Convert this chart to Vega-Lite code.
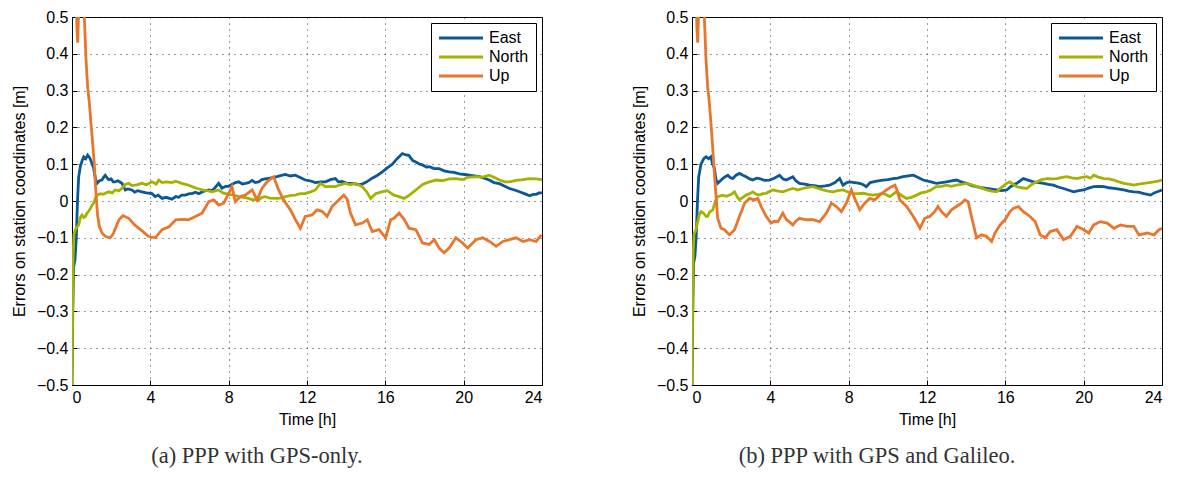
{
"$schema": "https://vega.github.io/schema/vega-lite/v6.json",
"background": "white",
"padding": {"left": 10, "top": 8, "right": 5, "bottom": 5},
"config": {
  "font": "Liberation Sans",
  "view": {"stroke": "black", "strokeWidth": 1},
  "axis": {"domainColor": "black", "domainWidth": 1, "ticks": true, "tickSize": -5, "tickColor": "black", "labelFontSize": 16, "labelColor": "black", "labelPadding": 9, "titleFontSize": 16, "titleFontWeight": "normal", "titleColor": "black", "grid": true, "gridColor": "#222", "gridDash": [1, 5], "gridWidth": 1, "gridOpacity": 0.9},
  "legend": {"title": null, "orient": "top-right", "offset": 6, "fillColor": "white", "strokeColor": "black", "padding": 7, "symbolType": "M-1.27,0H6.73", "symbolSize": 121, "symbolStrokeWidth": 3, "labelFontSize": 16, "labelColor": "black", "rowPadding": 3, "labelOffset": 35},
  "title": {"orient": "bottom", "font": "Liberation Serif", "fontSize": 22.5, "fontWeight": "normal", "color": "#333", "offset": 18, "dx": -50}
},
"spacing": 87,
"data": {"values": [
{"p":"a","s":"East","t":0,"v":-0.5},{"p":"a","s":"East","t":0.04,"v":-0.3},{"p":"a","s":"East","t":0.08,"v":-0.18},{"p":"a","s":"East","t":0.15,"v":-0.16},{"p":"a","s":"East","t":0.22,"v":-0.1},{"p":"a","s":"East","t":0.28,"v":0.0},{"p":"a","s":"East","t":0.34,"v":0.065},{"p":"a","s":"East","t":0.43,"v":0.095},{"p":"a","s":"East","t":0.52,"v":0.11},{"p":"a","s":"East","t":0.6,"v":0.12},{"p":"a","s":"East","t":0.7,"v":0.115},{"p":"a","s":"East","t":0.8,"v":0.125},{"p":"a","s":"East","t":0.9,"v":0.118},{"p":"a","s":"East","t":1.0,"v":0.105},{"p":"a","s":"East","t":1.1,"v":0.09},{"p":"a","s":"East","t":1.2,"v":0.06},{"p":"a","s":"East","t":1.28,"v":0.048},{"p":"a","s":"East","t":1.4,"v":0.055},{"p":"a","s":"East","t":1.53,"v":0.057},{"p":"a","s":"East","t":1.62,"v":0.065},{"p":"a","s":"East","t":1.7,"v":0.07},{"p":"a","s":"East","t":1.8,"v":0.062},{"p":"a","s":"East","t":1.87,"v":0.058},{"p":"a","s":"East","t":2.0,"v":0.06},{"p":"a","s":"East","t":2.1,"v":0.052},{"p":"a","s":"East","t":2.2,"v":0.052},{"p":"a","s":"East","t":2.35,"v":0.055},{"p":"a","s":"East","t":2.55,"v":0.048},{"p":"a","s":"East","t":2.65,"v":0.038},{"p":"a","s":"East","t":2.72,"v":0.03},{"p":"a","s":"East","t":2.85,"v":0.033},{"p":"a","s":"East","t":3.06,"v":0.03},{"p":"a","s":"East","t":3.2,"v":0.024},{"p":"a","s":"East","t":3.35,"v":0.028},{"p":"a","s":"East","t":3.57,"v":0.025},{"p":"a","s":"East","t":3.8,"v":0.022},{"p":"a","s":"East","t":4.08,"v":0.02},{"p":"a","s":"East","t":4.25,"v":0.012},{"p":"a","s":"East","t":4.4,"v":0.016},{"p":"a","s":"East","t":4.6,"v":0.007},{"p":"a","s":"East","t":4.8,"v":0.01},{"p":"a","s":"East","t":5.1,"v":0.005},{"p":"a","s":"East","t":5.3,"v":0.012},{"p":"a","s":"East","t":5.45,"v":0.01},{"p":"a","s":"East","t":5.6,"v":0.016},{"p":"a","s":"East","t":5.79,"v":0.016},{"p":"a","s":"East","t":6.0,"v":0.02},{"p":"a","s":"East","t":6.13,"v":0.02},{"p":"a","s":"East","t":6.3,"v":0.024},{"p":"a","s":"East","t":6.47,"v":0.02},{"p":"a","s":"East","t":6.7,"v":0.026},{"p":"a","s":"East","t":6.98,"v":0.03},{"p":"a","s":"East","t":7.15,"v":0.028},{"p":"a","s":"East","t":7.3,"v":0.036},{"p":"a","s":"East","t":7.49,"v":0.048},{"p":"a","s":"East","t":7.66,"v":0.035},{"p":"a","s":"East","t":7.85,"v":0.04},{"p":"a","s":"East","t":8.0,"v":0.04},{"p":"a","s":"East","t":8.2,"v":0.046},{"p":"a","s":"East","t":8.35,"v":0.05},{"p":"a","s":"East","t":8.51,"v":0.052},{"p":"a","s":"East","t":8.7,"v":0.046},{"p":"a","s":"East","t":9.02,"v":0.05},{"p":"a","s":"East","t":9.2,"v":0.056},{"p":"a","s":"East","t":9.35,"v":0.05},{"p":"a","s":"East","t":9.53,"v":0.052},{"p":"a","s":"East","t":9.7,"v":0.058},{"p":"a","s":"East","t":9.87,"v":0.06},{"p":"a","s":"East","t":10.1,"v":0.062},{"p":"a","s":"East","t":10.38,"v":0.065},{"p":"a","s":"East","t":10.6,"v":0.068},{"p":"a","s":"East","t":10.9,"v":0.072},{"p":"a","s":"East","t":11.15,"v":0.068},{"p":"a","s":"East","t":11.4,"v":0.07},{"p":"a","s":"East","t":11.65,"v":0.064},{"p":"a","s":"East","t":11.91,"v":0.057},{"p":"a","s":"East","t":12.15,"v":0.055},{"p":"a","s":"East","t":12.43,"v":0.05},{"p":"a","s":"East","t":12.7,"v":0.052},{"p":"a","s":"East","t":12.94,"v":0.052},{"p":"a","s":"East","t":13.2,"v":0.058},{"p":"a","s":"East","t":13.45,"v":0.061},{"p":"a","s":"East","t":13.6,"v":0.052},{"p":"a","s":"East","t":13.8,"v":0.053},{"p":"a","s":"East","t":14.05,"v":0.048},{"p":"a","s":"East","t":14.3,"v":0.048},{"p":"a","s":"East","t":14.55,"v":0.045},{"p":"a","s":"East","t":14.82,"v":0.046},{"p":"a","s":"East","t":15.05,"v":0.052},{"p":"a","s":"East","t":15.33,"v":0.062},{"p":"a","s":"East","t":15.6,"v":0.07},{"p":"a","s":"East","t":15.85,"v":0.079},{"p":"a","s":"East","t":16.1,"v":0.09},{"p":"a","s":"East","t":16.36,"v":0.1},{"p":"a","s":"East","t":16.6,"v":0.115},{"p":"a","s":"East","t":16.87,"v":0.129},{"p":"a","s":"East","t":17.05,"v":0.125},{"p":"a","s":"East","t":17.2,"v":0.124},{"p":"a","s":"East","t":17.4,"v":0.11},{"p":"a","s":"East","t":17.56,"v":0.106},{"p":"a","s":"East","t":17.75,"v":0.1},{"p":"a","s":"East","t":17.9,"v":0.098},{"p":"a","s":"East","t":18.1,"v":0.092},{"p":"a","s":"East","t":18.24,"v":0.093},{"p":"a","s":"East","t":18.5,"v":0.088},{"p":"a","s":"East","t":18.75,"v":0.088},{"p":"a","s":"East","t":19.0,"v":0.082},{"p":"a","s":"East","t":19.26,"v":0.079},{"p":"a","s":"East","t":19.5,"v":0.078},{"p":"a","s":"East","t":19.78,"v":0.074},{"p":"a","s":"East","t":20.05,"v":0.072},{"p":"a","s":"East","t":20.29,"v":0.07},{"p":"a","s":"East","t":20.55,"v":0.068},{"p":"a","s":"East","t":20.8,"v":0.066},{"p":"a","s":"East","t":21.05,"v":0.062},{"p":"a","s":"East","t":21.3,"v":0.057},{"p":"a","s":"East","t":21.55,"v":0.05},{"p":"a","s":"East","t":21.83,"v":0.047},{"p":"a","s":"East","t":22.1,"v":0.04},{"p":"a","s":"East","t":22.34,"v":0.034},{"p":"a","s":"East","t":22.6,"v":0.03},{"p":"a","s":"East","t":22.85,"v":0.025},{"p":"a","s":"East","t":23.1,"v":0.02},{"p":"a","s":"East","t":23.37,"v":0.014},{"p":"a","s":"East","t":23.55,"v":0.018},{"p":"a","s":"East","t":23.7,"v":0.018},{"p":"a","s":"East","t":23.85,"v":0.022},{"p":"a","s":"East","t":24.0,"v":0.022},
{"p":"a","s":"North","t":0,"v":-0.5},{"p":"a","s":"North","t":0.03,"v":-0.3},{"p":"a","s":"North","t":0.06,"v":-0.14},{"p":"a","s":"North","t":0.1,"v":-0.09},{"p":"a","s":"North","t":0.17,"v":-0.078},{"p":"a","s":"North","t":0.26,"v":-0.07},{"p":"a","s":"North","t":0.34,"v":-0.065},{"p":"a","s":"North","t":0.43,"v":-0.045},{"p":"a","s":"North","t":0.51,"v":-0.038},{"p":"a","s":"North","t":0.6,"v":-0.045},{"p":"a","s":"North","t":0.68,"v":-0.042},{"p":"a","s":"North","t":0.77,"v":-0.033},{"p":"a","s":"North","t":0.85,"v":-0.028},{"p":"a","s":"North","t":0.94,"v":-0.02},{"p":"a","s":"North","t":1.02,"v":-0.012},{"p":"a","s":"North","t":1.1,"v":-0.006},{"p":"a","s":"North","t":1.2,"v":0.008},{"p":"a","s":"North","t":1.28,"v":0.016},{"p":"a","s":"North","t":1.45,"v":0.02},{"p":"a","s":"North","t":1.6,"v":0.018},{"p":"a","s":"North","t":1.87,"v":0.025},{"p":"a","s":"North","t":2.05,"v":0.022},{"p":"a","s":"North","t":2.2,"v":0.03},{"p":"a","s":"North","t":2.4,"v":0.028},{"p":"a","s":"North","t":2.55,"v":0.034},{"p":"a","s":"North","t":2.72,"v":0.045},{"p":"a","s":"North","t":2.9,"v":0.048},{"p":"a","s":"North","t":3.06,"v":0.042},{"p":"a","s":"North","t":3.3,"v":0.044},{"p":"a","s":"North","t":3.57,"v":0.048},{"p":"a","s":"North","t":3.8,"v":0.044},{"p":"a","s":"North","t":4.08,"v":0.052},{"p":"a","s":"North","t":4.3,"v":0.046},{"p":"a","s":"North","t":4.43,"v":0.057},{"p":"a","s":"North","t":4.6,"v":0.05},{"p":"a","s":"North","t":4.8,"v":0.052},{"p":"a","s":"North","t":5.1,"v":0.05},{"p":"a","s":"North","t":5.3,"v":0.054},{"p":"a","s":"North","t":5.6,"v":0.048},{"p":"a","s":"North","t":5.9,"v":0.044},{"p":"a","s":"North","t":6.13,"v":0.039},{"p":"a","s":"North","t":6.4,"v":0.034},{"p":"a","s":"North","t":6.64,"v":0.03},{"p":"a","s":"North","t":6.9,"v":0.028},{"p":"a","s":"North","t":7.15,"v":0.025},{"p":"a","s":"North","t":7.49,"v":0.03},{"p":"a","s":"North","t":7.7,"v":0.022},{"p":"a","s":"North","t":8.0,"v":0.018},{"p":"a","s":"North","t":8.25,"v":0.016},{"p":"a","s":"North","t":8.51,"v":0.012},{"p":"a","s":"North","t":8.75,"v":0.01},{"p":"a","s":"North","t":9.02,"v":0.007},{"p":"a","s":"North","t":9.2,"v":0.004},{"p":"a","s":"North","t":9.53,"v":0.003},{"p":"a","s":"North","t":9.7,"v":0.01},{"p":"a","s":"North","t":9.87,"v":0.012},{"p":"a","s":"North","t":10.1,"v":0.008},{"p":"a","s":"North","t":10.38,"v":0.007},{"p":"a","s":"North","t":10.65,"v":0.008},{"p":"a","s":"North","t":10.9,"v":0.012},{"p":"a","s":"North","t":11.2,"v":0.015},{"p":"a","s":"North","t":11.4,"v":0.016},{"p":"a","s":"North","t":11.65,"v":0.02},{"p":"a","s":"North","t":11.91,"v":0.02},{"p":"a","s":"North","t":12.15,"v":0.024},{"p":"a","s":"North","t":12.43,"v":0.03},{"p":"a","s":"North","t":12.68,"v":0.048},{"p":"a","s":"North","t":12.94,"v":0.039},{"p":"a","s":"North","t":13.2,"v":0.04},{"p":"a","s":"North","t":13.45,"v":0.039},{"p":"a","s":"North","t":13.7,"v":0.044},{"p":"a","s":"North","t":13.96,"v":0.048},{"p":"a","s":"North","t":14.2,"v":0.044},{"p":"a","s":"North","t":14.48,"v":0.048},{"p":"a","s":"North","t":14.82,"v":0.039},{"p":"a","s":"North","t":15.05,"v":0.025},{"p":"a","s":"North","t":15.25,"v":0.007},{"p":"a","s":"North","t":15.5,"v":0.02},{"p":"a","s":"North","t":15.8,"v":0.025},{"p":"a","s":"North","t":16.1,"v":0.028},{"p":"a","s":"North","t":16.44,"v":0.016},{"p":"a","s":"North","t":16.7,"v":0.012},{"p":"a","s":"North","t":16.96,"v":0.007},{"p":"a","s":"North","t":17.2,"v":0.015},{"p":"a","s":"North","t":17.56,"v":0.03},{"p":"a","s":"North","t":17.9,"v":0.045},{"p":"a","s":"North","t":18.24,"v":0.052},{"p":"a","s":"North","t":18.6,"v":0.057},{"p":"a","s":"North","t":18.9,"v":0.055},{"p":"a","s":"North","t":19.26,"v":0.06},{"p":"a","s":"North","t":19.6,"v":0.061},{"p":"a","s":"North","t":19.95,"v":0.058},{"p":"a","s":"North","t":20.2,"v":0.064},{"p":"a","s":"North","t":20.63,"v":0.066},{"p":"a","s":"North","t":20.97,"v":0.065},{"p":"a","s":"North","t":21.3,"v":0.07},{"p":"a","s":"North","t":21.66,"v":0.062},{"p":"a","s":"North","t":21.83,"v":0.057},{"p":"a","s":"North","t":22.1,"v":0.052},{"p":"a","s":"North","t":22.34,"v":0.052},{"p":"a","s":"North","t":22.68,"v":0.056},{"p":"a","s":"North","t":23.03,"v":0.058},{"p":"a","s":"North","t":23.37,"v":0.061},{"p":"a","s":"North","t":23.7,"v":0.06},{"p":"a","s":"North","t":24.0,"v":0.058},
{"p":"a","s":"Up","t":0.05,"v":0.7},{"p":"a","s":"Up","t":0.2,"v":0.6},{"p":"a","s":"Up","t":0.25,"v":0.47},{"p":"a","s":"Up","t":0.29,"v":0.43},{"p":"a","s":"Up","t":0.33,"v":0.5},{"p":"a","s":"Up","t":0.38,"v":0.7},{"p":"a","s":"Up","t":0.55,"v":0.8},{"p":"a","s":"Up","t":0.63,"v":0.5},{"p":"a","s":"Up","t":0.72,"v":0.38},{"p":"a","s":"Up","t":0.8,"v":0.31},{"p":"a","s":"Up","t":0.88,"v":0.27},{"p":"a","s":"Up","t":0.97,"v":0.21},{"p":"a","s":"Up","t":1.05,"v":0.16},{"p":"a","s":"Up","t":1.14,"v":0.1},{"p":"a","s":"Up","t":1.2,"v":0.04},{"p":"a","s":"Up","t":1.25,"v":0.0},{"p":"a","s":"Up","t":1.31,"v":-0.04},{"p":"a","s":"Up","t":1.4,"v":-0.07},{"p":"a","s":"Up","t":1.53,"v":-0.087},{"p":"a","s":"Up","t":1.7,"v":-0.096},{"p":"a","s":"Up","t":1.95,"v":-0.1},{"p":"a","s":"Up","t":2.1,"v":-0.09},{"p":"a","s":"Up","t":2.25,"v":-0.07},{"p":"a","s":"Up","t":2.4,"v":-0.051},{"p":"a","s":"Up","t":2.6,"v":-0.04},{"p":"a","s":"Up","t":2.9,"v":-0.047},{"p":"a","s":"Up","t":3.2,"v":-0.065},{"p":"a","s":"Up","t":3.5,"v":-0.078},{"p":"a","s":"Up","t":3.9,"v":-0.096},{"p":"a","s":"Up","t":4.25,"v":-0.1},{"p":"a","s":"Up","t":4.6,"v":-0.078},{"p":"a","s":"Up","t":4.95,"v":-0.07},{"p":"a","s":"Up","t":5.3,"v":-0.051},{"p":"a","s":"Up","t":5.6,"v":-0.05},{"p":"a","s":"Up","t":5.95,"v":-0.051},{"p":"a","s":"Up","t":6.3,"v":-0.042},{"p":"a","s":"Up","t":6.64,"v":-0.033},{"p":"a","s":"Up","t":6.98,"v":-0.002},{"p":"a","s":"Up","t":7.24,"v":0.003},{"p":"a","s":"Up","t":7.49,"v":-0.011},{"p":"a","s":"Up","t":7.75,"v":-0.006},{"p":"a","s":"Up","t":8.0,"v":0.021},{"p":"a","s":"Up","t":8.17,"v":0.039},{"p":"a","s":"Up","t":8.34,"v":-0.002},{"p":"a","s":"Up","t":8.6,"v":0.012},{"p":"a","s":"Up","t":8.85,"v":0.016},{"p":"a","s":"Up","t":9.2,"v":0.03},{"p":"a","s":"Up","t":9.45,"v":0.003},{"p":"a","s":"Up","t":9.7,"v":0.034},{"p":"a","s":"Up","t":9.96,"v":0.052},{"p":"a","s":"Up","t":10.3,"v":0.066},{"p":"a","s":"Up","t":10.55,"v":0.03},{"p":"a","s":"Up","t":10.8,"v":0.003},{"p":"a","s":"Up","t":11.15,"v":-0.024},{"p":"a","s":"Up","t":11.4,"v":-0.05},{"p":"a","s":"Up","t":11.66,"v":-0.074},{"p":"a","s":"Up","t":11.91,"v":-0.042},{"p":"a","s":"Up","t":12.26,"v":-0.038},{"p":"a","s":"Up","t":12.51,"v":-0.024},{"p":"a","s":"Up","t":12.77,"v":-0.028},{"p":"a","s":"Up","t":13.03,"v":-0.042},{"p":"a","s":"Up","t":13.28,"v":-0.015},{"p":"a","s":"Up","t":13.62,"v":0.003},{"p":"a","s":"Up","t":13.88,"v":0.016},{"p":"a","s":"Up","t":14.05,"v":0.005},{"p":"a","s":"Up","t":14.22,"v":-0.033},{"p":"a","s":"Up","t":14.48,"v":-0.065},{"p":"a","s":"Up","t":14.82,"v":-0.06},{"p":"a","s":"Up","t":15.08,"v":-0.051},{"p":"a","s":"Up","t":15.33,"v":-0.083},{"p":"a","s":"Up","t":15.68,"v":-0.078},{"p":"a","s":"Up","t":16.02,"v":-0.1},{"p":"a","s":"Up","t":16.27,"v":-0.051},{"p":"a","s":"Up","t":16.44,"v":-0.047},{"p":"a","s":"Up","t":16.7,"v":-0.033},{"p":"a","s":"Up","t":16.96,"v":-0.05},{"p":"a","s":"Up","t":17.21,"v":-0.074},{"p":"a","s":"Up","t":17.56,"v":-0.078},{"p":"a","s":"Up","t":17.9,"v":-0.114},{"p":"a","s":"Up","t":18.24,"v":-0.118},{"p":"a","s":"Up","t":18.5,"v":-0.105},{"p":"a","s":"Up","t":18.75,"v":-0.128},{"p":"a","s":"Up","t":19.0,"v":-0.141},{"p":"a","s":"Up","t":19.26,"v":-0.128},{"p":"a","s":"Up","t":19.6,"v":-0.1},{"p":"a","s":"Up","t":19.95,"v":-0.114},{"p":"a","s":"Up","t":20.2,"v":-0.128},{"p":"a","s":"Up","t":20.63,"v":-0.105},{"p":"a","s":"Up","t":20.97,"v":-0.1},{"p":"a","s":"Up","t":21.32,"v":-0.11},{"p":"a","s":"Up","t":21.66,"v":-0.123},{"p":"a","s":"Up","t":22.0,"v":-0.11},{"p":"a","s":"Up","t":22.34,"v":-0.105},{"p":"a","s":"Up","t":22.68,"v":-0.1},{"p":"a","s":"Up","t":23.03,"v":-0.11},{"p":"a","s":"Up","t":23.37,"v":-0.105},{"p":"a","s":"Up","t":23.7,"v":-0.11},{"p":"a","s":"Up","t":23.97,"v":-0.092},
{"p":"b","s":"East","t":0,"v":-0.5},{"p":"b","s":"East","t":0.04,"v":-0.3},{"p":"b","s":"East","t":0.08,"v":-0.17},{"p":"b","s":"East","t":0.15,"v":-0.15},{"p":"b","s":"East","t":0.22,"v":-0.09},{"p":"b","s":"East","t":0.28,"v":0.0},{"p":"b","s":"East","t":0.34,"v":0.065},{"p":"b","s":"East","t":0.46,"v":0.1},{"p":"b","s":"East","t":0.6,"v":0.115},{"p":"b","s":"East","t":0.72,"v":0.12},{"p":"b","s":"East","t":0.85,"v":0.115},{"p":"b","s":"East","t":0.97,"v":0.12},{"p":"b","s":"East","t":1.05,"v":0.1},{"p":"b","s":"East","t":1.14,"v":0.09},{"p":"b","s":"East","t":1.22,"v":0.06},{"p":"b","s":"East","t":1.31,"v":0.048},{"p":"b","s":"East","t":1.45,"v":0.055},{"p":"b","s":"East","t":1.57,"v":0.061},{"p":"b","s":"East","t":1.7,"v":0.066},{"p":"b","s":"East","t":1.83,"v":0.07},{"p":"b","s":"East","t":1.95,"v":0.064},{"p":"b","s":"East","t":2.08,"v":0.061},{"p":"b","s":"East","t":2.25,"v":0.07},{"p":"b","s":"East","t":2.42,"v":0.075},{"p":"b","s":"East","t":2.6,"v":0.07},{"p":"b","s":"East","t":2.76,"v":0.066},{"p":"b","s":"East","t":2.95,"v":0.06},{"p":"b","s":"East","t":3.1,"v":0.057},{"p":"b","s":"East","t":3.3,"v":0.062},{"p":"b","s":"East","t":3.45,"v":0.061},{"p":"b","s":"East","t":3.7,"v":0.056},{"p":"b","s":"East","t":3.96,"v":0.057},{"p":"b","s":"East","t":4.2,"v":0.062},{"p":"b","s":"East","t":4.47,"v":0.07},{"p":"b","s":"East","t":4.65,"v":0.06},{"p":"b","s":"East","t":4.81,"v":0.057},{"p":"b","s":"East","t":5.0,"v":0.062},{"p":"b","s":"East","t":5.15,"v":0.066},{"p":"b","s":"East","t":5.3,"v":0.055},{"p":"b","s":"East","t":5.49,"v":0.048},{"p":"b","s":"East","t":5.75,"v":0.046},{"p":"b","s":"East","t":6.0,"v":0.043},{"p":"b","s":"East","t":6.25,"v":0.042},{"p":"b","s":"East","t":6.52,"v":0.039},{"p":"b","s":"East","t":6.8,"v":0.041},{"p":"b","s":"East","t":7.03,"v":0.043},{"p":"b","s":"East","t":7.3,"v":0.05},{"p":"b","s":"East","t":7.54,"v":0.061},{"p":"b","s":"East","t":7.71,"v":0.043},{"p":"b","s":"East","t":7.9,"v":0.05},{"p":"b","s":"East","t":8.05,"v":0.052},{"p":"b","s":"East","t":8.3,"v":0.05},{"p":"b","s":"East","t":8.57,"v":0.048},{"p":"b","s":"East","t":8.75,"v":0.044},{"p":"b","s":"East","t":8.9,"v":0.039},{"p":"b","s":"East","t":9.1,"v":0.05},{"p":"b","s":"East","t":9.25,"v":0.052},{"p":"b","s":"East","t":9.5,"v":0.055},{"p":"b","s":"East","t":9.76,"v":0.057},{"p":"b","s":"East","t":10.0,"v":0.058},{"p":"b","s":"East","t":10.27,"v":0.061},{"p":"b","s":"East","t":10.5,"v":0.062},{"p":"b","s":"East","t":10.78,"v":0.066},{"p":"b","s":"East","t":11.05,"v":0.068},{"p":"b","s":"East","t":11.3,"v":0.07},{"p":"b","s":"East","t":11.55,"v":0.064},{"p":"b","s":"East","t":11.8,"v":0.057},{"p":"b","s":"East","t":11.97,"v":0.055},{"p":"b","s":"East","t":12.2,"v":0.052},{"p":"b","s":"East","t":12.48,"v":0.048},{"p":"b","s":"East","t":12.75,"v":0.05},{"p":"b","s":"East","t":12.99,"v":0.052},{"p":"b","s":"East","t":13.25,"v":0.055},{"p":"b","s":"East","t":13.5,"v":0.057},{"p":"b","s":"East","t":13.75,"v":0.052},{"p":"b","s":"East","t":14.02,"v":0.048},{"p":"b","s":"East","t":14.3,"v":0.042},{"p":"b","s":"East","t":14.53,"v":0.039},{"p":"b","s":"East","t":14.8,"v":0.036},{"p":"b","s":"East","t":15.04,"v":0.034},{"p":"b","s":"East","t":15.3,"v":0.032},{"p":"b","s":"East","t":15.56,"v":0.03},{"p":"b","s":"East","t":15.8,"v":0.028},{"p":"b","s":"East","t":16.07,"v":0.03},{"p":"b","s":"East","t":16.3,"v":0.04},{"p":"b","s":"East","t":16.58,"v":0.048},{"p":"b","s":"East","t":16.92,"v":0.061},{"p":"b","s":"East","t":17.2,"v":0.056},{"p":"b","s":"East","t":17.44,"v":0.052},{"p":"b","s":"East","t":17.7,"v":0.05},{"p":"b","s":"East","t":17.95,"v":0.048},{"p":"b","s":"East","t":18.2,"v":0.045},{"p":"b","s":"East","t":18.46,"v":0.043},{"p":"b","s":"East","t":18.7,"v":0.038},{"p":"b","s":"East","t":18.97,"v":0.034},{"p":"b","s":"East","t":19.2,"v":0.03},{"p":"b","s":"East","t":19.49,"v":0.025},{"p":"b","s":"East","t":19.75,"v":0.028},{"p":"b","s":"East","t":20.0,"v":0.03},{"p":"b","s":"East","t":20.25,"v":0.035},{"p":"b","s":"East","t":20.51,"v":0.039},{"p":"b","s":"East","t":20.8,"v":0.04},{"p":"b","s":"East","t":21.03,"v":0.039},{"p":"b","s":"East","t":21.3,"v":0.036},{"p":"b","s":"East","t":21.54,"v":0.034},{"p":"b","s":"East","t":21.8,"v":0.032},{"p":"b","s":"East","t":22.05,"v":0.03},{"p":"b","s":"East","t":22.3,"v":0.027},{"p":"b","s":"East","t":22.56,"v":0.025},{"p":"b","s":"East","t":22.8,"v":0.024},{"p":"b","s":"East","t":23.08,"v":0.02},{"p":"b","s":"East","t":23.42,"v":0.016},{"p":"b","s":"East","t":23.6,"v":0.022},{"p":"b","s":"East","t":23.76,"v":0.025},{"p":"b","s":"East","t":24.0,"v":0.03},
{"p":"b","s":"North","t":0,"v":-0.5},{"p":"b","s":"North","t":0.03,"v":-0.3},{"p":"b","s":"North","t":0.06,"v":-0.14},{"p":"b","s":"North","t":0.1,"v":-0.09},{"p":"b","s":"North","t":0.2,"v":-0.078},{"p":"b","s":"North","t":0.3,"v":-0.055},{"p":"b","s":"North","t":0.38,"v":-0.035},{"p":"b","s":"North","t":0.46,"v":-0.029},{"p":"b","s":"North","t":0.55,"v":-0.032},{"p":"b","s":"North","t":0.63,"v":-0.035},{"p":"b","s":"North","t":0.72,"v":-0.042},{"p":"b","s":"North","t":0.8,"v":-0.042},{"p":"b","s":"North","t":0.9,"v":-0.03},{"p":"b","s":"North","t":1.06,"v":-0.024},{"p":"b","s":"North","t":1.2,"v":0.0},{"p":"b","s":"North","t":1.31,"v":0.012},{"p":"b","s":"North","t":1.45,"v":0.014},{"p":"b","s":"North","t":1.57,"v":0.016},{"p":"b","s":"North","t":1.75,"v":0.013},{"p":"b","s":"North","t":1.91,"v":0.016},{"p":"b","s":"North","t":2.05,"v":0.02},{"p":"b","s":"North","t":2.17,"v":0.025},{"p":"b","s":"North","t":2.3,"v":0.012},{"p":"b","s":"North","t":2.42,"v":0.003},{"p":"b","s":"North","t":2.6,"v":0.01},{"p":"b","s":"North","t":2.76,"v":0.016},{"p":"b","s":"North","t":2.95,"v":0.02},{"p":"b","s":"North","t":3.1,"v":0.025},{"p":"b","s":"North","t":3.3,"v":0.018},{"p":"b","s":"North","t":3.45,"v":0.016},{"p":"b","s":"North","t":3.6,"v":0.02},{"p":"b","s":"North","t":3.79,"v":0.021},{"p":"b","s":"North","t":3.95,"v":0.026},{"p":"b","s":"North","t":4.13,"v":0.03},{"p":"b","s":"North","t":4.4,"v":0.027},{"p":"b","s":"North","t":4.64,"v":0.025},{"p":"b","s":"North","t":4.9,"v":0.03},{"p":"b","s":"North","t":5.15,"v":0.034},{"p":"b","s":"North","t":5.4,"v":0.03},{"p":"b","s":"North","t":5.67,"v":0.034},{"p":"b","s":"North","t":5.9,"v":0.037},{"p":"b","s":"North","t":6.18,"v":0.039},{"p":"b","s":"North","t":6.45,"v":0.034},{"p":"b","s":"North","t":6.69,"v":0.03},{"p":"b","s":"North","t":6.95,"v":0.027},{"p":"b","s":"North","t":7.2,"v":0.025},{"p":"b","s":"North","t":7.45,"v":0.028},{"p":"b","s":"North","t":7.71,"v":0.03},{"p":"b","s":"North","t":7.95,"v":0.025},{"p":"b","s":"North","t":8.23,"v":0.021},{"p":"b","s":"North","t":8.5,"v":0.02},{"p":"b","s":"North","t":8.74,"v":0.021},{"p":"b","s":"North","t":9.0,"v":0.018},{"p":"b","s":"North","t":9.25,"v":0.016},{"p":"b","s":"North","t":9.5,"v":0.018},{"p":"b","s":"North","t":9.76,"v":0.021},{"p":"b","s":"North","t":10.1,"v":0.012},{"p":"b","s":"North","t":10.44,"v":0.025},{"p":"b","s":"North","t":10.7,"v":0.015},{"p":"b","s":"North","t":10.96,"v":0.007},{"p":"b","s":"North","t":11.2,"v":0.01},{"p":"b","s":"North","t":11.47,"v":0.016},{"p":"b","s":"North","t":11.7,"v":0.022},{"p":"b","s":"North","t":11.97,"v":0.025},{"p":"b","s":"North","t":12.2,"v":0.03},{"p":"b","s":"North","t":12.48,"v":0.039},{"p":"b","s":"North","t":12.75,"v":0.04},{"p":"b","s":"North","t":12.99,"v":0.043},{"p":"b","s":"North","t":13.25,"v":0.04},{"p":"b","s":"North","t":13.5,"v":0.043},{"p":"b","s":"North","t":13.75,"v":0.045},{"p":"b","s":"North","t":14.02,"v":0.048},{"p":"b","s":"North","t":14.3,"v":0.044},{"p":"b","s":"North","t":14.53,"v":0.039},{"p":"b","s":"North","t":14.8,"v":0.035},{"p":"b","s":"North","t":15.04,"v":0.03},{"p":"b","s":"North","t":15.3,"v":0.027},{"p":"b","s":"North","t":15.56,"v":0.025},{"p":"b","s":"North","t":15.75,"v":0.035},{"p":"b","s":"North","t":15.9,"v":0.04},{"p":"b","s":"North","t":16.05,"v":0.048},{"p":"b","s":"North","t":16.24,"v":0.052},{"p":"b","s":"North","t":16.4,"v":0.045},{"p":"b","s":"North","t":16.58,"v":0.039},{"p":"b","s":"North","t":16.85,"v":0.036},{"p":"b","s":"North","t":17.09,"v":0.034},{"p":"b","s":"North","t":17.35,"v":0.045},{"p":"b","s":"North","t":17.6,"v":0.052},{"p":"b","s":"North","t":17.85,"v":0.058},{"p":"b","s":"North","t":18.12,"v":0.061},{"p":"b","s":"North","t":18.4,"v":0.06},{"p":"b","s":"North","t":18.63,"v":0.061},{"p":"b","s":"North","t":18.9,"v":0.064},{"p":"b","s":"North","t":19.15,"v":0.066},{"p":"b","s":"North","t":19.4,"v":0.063},{"p":"b","s":"North","t":19.66,"v":0.061},{"p":"b","s":"North","t":19.9,"v":0.064},{"p":"b","s":"North","t":20.17,"v":0.066},{"p":"b","s":"North","t":20.35,"v":0.062},{"p":"b","s":"North","t":20.51,"v":0.07},{"p":"b","s":"North","t":20.75,"v":0.065},{"p":"b","s":"North","t":21.03,"v":0.061},{"p":"b","s":"North","t":21.3,"v":0.06},{"p":"b","s":"North","t":21.54,"v":0.057},{"p":"b","s":"North","t":21.8,"v":0.052},{"p":"b","s":"North","t":22.05,"v":0.048},{"p":"b","s":"North","t":22.3,"v":0.046},{"p":"b","s":"North","t":22.56,"v":0.043},{"p":"b","s":"North","t":22.8,"v":0.046},{"p":"b","s":"North","t":23.08,"v":0.048},{"p":"b","s":"North","t":23.35,"v":0.05},{"p":"b","s":"North","t":23.59,"v":0.052},{"p":"b","s":"North","t":23.8,"v":0.054},{"p":"b","s":"North","t":24.0,"v":0.057},
{"p":"b","s":"Up","t":0.05,"v":0.7},{"p":"b","s":"Up","t":0.2,"v":0.6},{"p":"b","s":"Up","t":0.25,"v":0.47},{"p":"b","s":"Up","t":0.29,"v":0.43},{"p":"b","s":"Up","t":0.33,"v":0.5},{"p":"b","s":"Up","t":0.38,"v":0.7},{"p":"b","s":"Up","t":0.55,"v":0.8},{"p":"b","s":"Up","t":0.63,"v":0.5},{"p":"b","s":"Up","t":0.72,"v":0.38},{"p":"b","s":"Up","t":0.8,"v":0.31},{"p":"b","s":"Up","t":0.88,"v":0.27},{"p":"b","s":"Up","t":0.97,"v":0.21},{"p":"b","s":"Up","t":1.05,"v":0.15},{"p":"b","s":"Up","t":1.14,"v":0.075},{"p":"b","s":"Up","t":1.23,"v":0.012},{"p":"b","s":"Up","t":1.31,"v":-0.047},{"p":"b","s":"Up","t":1.48,"v":-0.074},{"p":"b","s":"Up","t":1.66,"v":-0.078},{"p":"b","s":"Up","t":1.91,"v":-0.092},{"p":"b","s":"Up","t":2.05,"v":-0.085},{"p":"b","s":"Up","t":2.17,"v":-0.078},{"p":"b","s":"Up","t":2.3,"v":-0.06},{"p":"b","s":"Up","t":2.42,"v":-0.042},{"p":"b","s":"Up","t":2.55,"v":-0.025},{"p":"b","s":"Up","t":2.68,"v":-0.006},{"p":"b","s":"Up","t":2.94,"v":0.007},{"p":"b","s":"Up","t":3.19,"v":0.003},{"p":"b","s":"Up","t":3.36,"v":0.007},{"p":"b","s":"Up","t":3.53,"v":-0.015},{"p":"b","s":"Up","t":3.79,"v":-0.042},{"p":"b","s":"Up","t":4.04,"v":-0.06},{"p":"b","s":"Up","t":4.2,"v":-0.055},{"p":"b","s":"Up","t":4.39,"v":-0.056},{"p":"b","s":"Up","t":4.64,"v":-0.033},{"p":"b","s":"Up","t":4.81,"v":-0.05},{"p":"b","s":"Up","t":5.0,"v":-0.058},{"p":"b","s":"Up","t":5.15,"v":-0.065},{"p":"b","s":"Up","t":5.3,"v":-0.055},{"p":"b","s":"Up","t":5.49,"v":-0.047},{"p":"b","s":"Up","t":5.84,"v":-0.051},{"p":"b","s":"Up","t":6.18,"v":-0.051},{"p":"b","s":"Up","t":6.52,"v":-0.056},{"p":"b","s":"Up","t":6.86,"v":-0.033},{"p":"b","s":"Up","t":7.12,"v":-0.006},{"p":"b","s":"Up","t":7.37,"v":-0.015},{"p":"b","s":"Up","t":7.63,"v":-0.029},{"p":"b","s":"Up","t":7.88,"v":-0.006},{"p":"b","s":"Up","t":8.14,"v":0.03},{"p":"b","s":"Up","t":8.31,"v":0.007},{"p":"b","s":"Up","t":8.57,"v":-0.024},{"p":"b","s":"Up","t":8.82,"v":-0.006},{"p":"b","s":"Up","t":9.08,"v":0.007},{"p":"b","s":"Up","t":9.33,"v":0.003},{"p":"b","s":"Up","t":9.59,"v":0.016},{"p":"b","s":"Up","t":9.93,"v":0.03},{"p":"b","s":"Up","t":10.19,"v":0.039},{"p":"b","s":"Up","t":10.36,"v":0.043},{"p":"b","s":"Up","t":10.5,"v":0.025},{"p":"b","s":"Up","t":10.61,"v":0.003},{"p":"b","s":"Up","t":10.96,"v":-0.015},{"p":"b","s":"Up","t":11.3,"v":-0.042},{"p":"b","s":"Up","t":11.5,"v":-0.06},{"p":"b","s":"Up","t":11.64,"v":-0.074},{"p":"b","s":"Up","t":11.88,"v":-0.047},{"p":"b","s":"Up","t":12.14,"v":-0.042},{"p":"b","s":"Up","t":12.39,"v":-0.029},{"p":"b","s":"Up","t":12.56,"v":-0.015},{"p":"b","s":"Up","t":12.74,"v":-0.029},{"p":"b","s":"Up","t":12.99,"v":-0.042},{"p":"b","s":"Up","t":13.25,"v":-0.024},{"p":"b","s":"Up","t":13.5,"v":-0.015},{"p":"b","s":"Up","t":13.76,"v":-0.006},{"p":"b","s":"Up","t":13.93,"v":0.003},{"p":"b","s":"Up","t":14.1,"v":-0.002},{"p":"b","s":"Up","t":14.27,"v":-0.042},{"p":"b","s":"Up","t":14.53,"v":-0.1},{"p":"b","s":"Up","t":14.79,"v":-0.092},{"p":"b","s":"Up","t":15.04,"v":-0.096},{"p":"b","s":"Up","t":15.3,"v":-0.11},{"p":"b","s":"Up","t":15.47,"v":-0.087},{"p":"b","s":"Up","t":15.73,"v":-0.065},{"p":"b","s":"Up","t":15.98,"v":-0.051},{"p":"b","s":"Up","t":16.24,"v":-0.029},{"p":"b","s":"Up","t":16.41,"v":-0.02},{"p":"b","s":"Up","t":16.67,"v":-0.015},{"p":"b","s":"Up","t":16.92,"v":-0.029},{"p":"b","s":"Up","t":17.26,"v":-0.042},{"p":"b","s":"Up","t":17.52,"v":-0.056},{"p":"b","s":"Up","t":17.78,"v":-0.092},{"p":"b","s":"Up","t":18.03,"v":-0.1},{"p":"b","s":"Up","t":18.29,"v":-0.083},{"p":"b","s":"Up","t":18.63,"v":-0.078},{"p":"b","s":"Up","t":18.97,"v":-0.105},{"p":"b","s":"Up","t":19.32,"v":-0.096},{"p":"b","s":"Up","t":19.66,"v":-0.069},{"p":"b","s":"Up","t":20.0,"v":-0.078},{"p":"b","s":"Up","t":20.26,"v":-0.087},{"p":"b","s":"Up","t":20.51,"v":-0.065},{"p":"b","s":"Up","t":20.85,"v":-0.056},{"p":"b","s":"Up","t":21.2,"v":-0.06},{"p":"b","s":"Up","t":21.54,"v":-0.074},{"p":"b","s":"Up","t":21.88,"v":-0.065},{"p":"b","s":"Up","t":22.22,"v":-0.069},{"p":"b","s":"Up","t":22.56,"v":-0.069},{"p":"b","s":"Up","t":22.82,"v":-0.092},{"p":"b","s":"Up","t":23.25,"v":-0.087},{"p":"b","s":"Up","t":23.59,"v":-0.092},{"p":"b","s":"Up","t":23.85,"v":-0.078},{"p":"b","s":"Up","t":24.0,"v":-0.074}
]},
"hconcat": [
 {
  "width": 470, "height": 368,
  "title": {"text": "(a) PPP with GPS-only."},
  "transform": [{"filter": "datum.p == 'a'"}],
  "mark": {"type": "line", "clip": true, "strokeWidth": 2.8},
  "encoding": {
   "x": {"field": "t", "type": "quantitative", "scale": {"domain": [0, 24], "nice": false, "zero": false}, "axis": {"values": [0, 4, 8, 12, 16, 20, 24], "title": "Time [h]", "titlePadding": 6}},
   "y": {"field": "v", "type": "quantitative", "scale": {"domain": [-0.5, 0.5], "nice": false}, "axis": {"values": [-0.5, -0.4, -0.3, -0.2, -0.1, 0, 0.1, 0.2, 0.3, 0.4, 0.5], "format": ".1~f", "title": "Errors on station coordinates [m]", "titlePadding": 9}},
   "color": {"field": "s", "type": "nominal", "scale": {"domain": ["East", "North", "Up"], "range": ["#0a5896", "#a5b200", "#e8762c"]}}
  }
 },
 {
  "width": 470, "height": 368,
  "title": {"text": "(b) PPP with GPS and Galileo."},
  "transform": [{"filter": "datum.p == 'b'"}],
  "mark": {"type": "line", "clip": true, "strokeWidth": 2.8},
  "encoding": {
   "x": {"field": "t", "type": "quantitative", "scale": {"domain": [0, 24], "nice": false, "zero": false}, "axis": {"values": [0, 4, 8, 12, 16, 20, 24], "title": "Time [h]", "titlePadding": 6}},
   "y": {"field": "v", "type": "quantitative", "scale": {"domain": [-0.5, 0.5], "nice": false}, "axis": {"values": [-0.5, -0.4, -0.3, -0.2, -0.1, 0, 0.1, 0.2, 0.3, 0.4, 0.5], "format": ".1~f", "title": "Errors on station coordinates [m]", "titlePadding": 9}},
   "color": {"field": "s", "type": "nominal", "scale": {"domain": ["East", "North", "Up"], "range": ["#0a5896", "#a5b200", "#e8762c"]}}
  }
 }
],
"resolve": {"legend": {"color": "independent"}}
}
